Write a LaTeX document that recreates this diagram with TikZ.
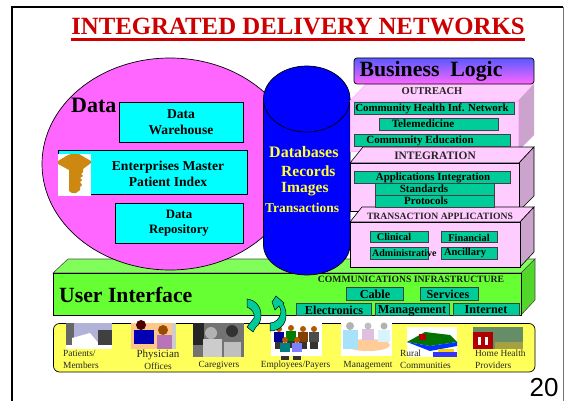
\documentclass[tikz,border=0pt]{standalone}
\usepackage{fontspec}
\setmainfont{Liberation Serif}
\setsansfont{Liberation Sans}
\definecolor{mag}{RGB}{255,102,255}
\definecolor{cyanb}{RGB}{0,255,255}
\definecolor{pinkb}{RGB}{255,204,255}
\definecolor{pinks}{RGB}{204,163,204}
\definecolor{tealb}{RGB}{0,204,153}
\definecolor{limeb}{RGB}{102,255,51}
\definecolor{limet}{RGB}{128,255,90}
\definecolor{limes}{RGB}{82,214,41}
\definecolor{yellowb}{RGB}{255,255,90}
\definecolor{goldk}{RGB}{204,136,17}
\definecolor{bluecyl}{RGB}{0,0,255}
\definecolor{ylab}{RGB}{255,255,51}
\definecolor{titler}{RGB}{204,0,0}
\tikzset{
 x=1pt,y=-1pt,
 lab/.style={font=\bfseries\fontsize{#1}{#1}\selectfont,inner sep=0pt,align=center},
 ylabel/.style={font=\bfseries\fontsize{#1}{#1}\selectfont,inner sep=0pt,text=ylab,anchor=west},
 cbox/.style={draw=black,fill=cyanb,line width=.8pt,inner sep=0pt},
 ctext/.style={font=\bfseries\fontsize{13.6}{16}\selectfont,inner sep=0pt,align=center},
 tbox/.style={draw=black!75,fill=tealb,line width=.8pt},
 small/.style={font=\fontsize{9.4}{12}\selectfont,inner sep=0pt,align=left,text=black!85},
 sideface/.style={fill=pinks,draw=black,line width=.6pt},
 topface/.style={fill=pinkb,draw=black,line width=.6pt},
 arrowshape/.style={fill=tealb,draw=black,line width=.5pt},
}
\begin{document}
\begin{tikzpicture}
\useasboundingbox (0,0) rectangle (564,401);
\fill[white] (0,0) rectangle (564,401);
\draw[line width=2pt] (12,401) -- (12,7) -- (563,7);
\draw[black!55,line width=1pt] (563,7) -- (563,401);
\node[lab=24.8,text=titler,anchor=center] (title) at (298,26.5) {INTEGRATED DELIVERY NETWORKS};
\draw[titler,line width=2.4pt] (71,39.5) -- (525,39.5);
% green bar
\draw[fill=limet,line width=.6pt,draw=black!70] (53,273) -- (68,259) -- (535,259) -- (521,273) -- cycle;
\draw[fill=limes,line width=.6pt,draw=black!70] (521,273) -- (535,259) -- (535,300) -- (521,315) -- cycle;
\draw[fill=limeb,line width=.8pt] (53,273) rectangle (521,315);
\node[lab=21.7,anchor=west] (ui) at (59,295) {User Interface};
% ellipse
\draw[fill=mag,line width=.7pt] (170,164) ellipse (128 and 106);
% cyan boxes
\draw[cbox] (119,102) rectangle (243,142);
\draw[cbox] (58,150) rectangle (247,194);
\draw[cbox] (115,203) rectangle (243,243);
\node[ctext] (wh) at (181,122) {Data\\Warehouse};
\node[ctext] (ei) at (168,173.5) {Enterprises Master\\Patient Index};
\node[ctext,font=\bfseries\fontsize{12.8}{15.5}\selectfont] (re) at (179,223) {Data\\Repository};
\node[lab=22,anchor=west] (data) at (71,105.5) {Data};
% key
\fill[white] (58,154) rectangle (91,196);
\fill[goldk] (58,161) -- (68,155) -- (71,154) -- (79,154) -- (84,157) -- (91,161) -- (91,163) -- (83,169) -- (83,172) -- (81,174) -- (83,176) -- (80,178) -- (82,180) -- (80,182) -- (82,185) -- (80,187) -- (80,190) -- (76,193) -- (72,193) -- (69,191) -- (69,170) -- (58,164) -- cycle;
% cylinder
\draw[fill=bluecyl,line width=.7pt] (263.5,99) -- (263.5,245) arc[start angle=180,end angle=360,x radius=43.25,y radius=-30] -- (350,99) arc[start angle=0,end angle=180,x radius=43.25,y radius=-33] -- cycle;
\draw[line width=.7pt] (263.5,99) arc[start angle=180,end angle=360,x radius=43.25,y radius=-33];
\node[ylabel=16] (db) at (269,152) {Databases};
\node[ylabel=15.5] (rc) at (281,171.5) {Records};
\node[ylabel=15.5] (im) at (281,189.5) {Images};
\node[ylabel=13.5] (tr) at (265,207.5) {Transactions};
% pink stack
\path[fill=pinkb,draw=mag!50,line width=.6pt] (350,101) -- (366,84) -- (534,84) -- (518,101) -- cycle;
\path[fill=pinks] (518,101) -- (534,84) -- (534,135) -- (518,151) -- cycle;
\path[fill=pinkb,draw=mag!50,line width=.6pt] (350,101) rectangle (518,151);
\draw[topface] (350,163) -- (363,147) -- (534,147) -- (519,163) -- cycle;
\draw[sideface] (519,163) -- (534,147) -- (534,196) -- (519,211) -- cycle;
\draw[topface] (350,163) rectangle (519,211);
\draw[topface] (350,222) -- (362,207) -- (534,207) -- (520,222) -- cycle;
\draw[sideface] (520,222) -- (534,207) -- (534,252) -- (520,267) -- cycle;
\draw[topface] (350,222) rectangle (520,267);
% business logic
\shade[top color=blue!65!white,bottom color=mag,rounded corners=3pt,draw=black,line width=.7pt] (354,58) rectangle (534,84);
\node[lab=21.8] (bl) at (431,71) {Business\ \ Logic};
\node[lab=10.5,text=black!85] (ot) at (432,91.5) {OUTREACH};
% outreach boxes
\draw[tbox] (354,102) rectangle (514,114);
\draw[tbox] (379,118) rectangle (498,130);
\draw[tbox] (354,134) rectangle (510,146);
\node[lab=10.9] (c1) at (432,108.5) {Community Health Inf. Network};
\node[lab=11.2] (c2) at (423,124) {Telemedicine};
\node[lab=11] (c3) at (420,140.5) {Community Education};
\node[lab=11.4,text=black!85] (ig) at (435,155.5) {INTEGRATION};
% integration boxes
\draw[tbox] (354,171) rectangle (510,183);
\draw[tbox] (375,183) rectangle (494,195);
\draw[tbox] (375,195) rectangle (494,207);
\node[lab=10.9] (a1) at (433,177.5) {Applications Integration};
\node[lab=11] (a2) at (424,189) {Standards};
\node[lab=11] (a3) at (426,201) {Protocols};
\node[lab=9.65,text=black!85] (ta) at (440,216) {TRANSACTION APPLICATIONS};
% transaction boxes
\draw[tbox] (370,231) rectangle (428,242);
\draw[tbox] (441,231) rectangle (497,242);
\draw[tbox] (370,247) rectangle (428,259);
\draw[tbox] (441,247) rectangle (497,259);
\node[lab=10.3] (t1) at (394,237) {Clinical};
\node[lab=10.3] (t2) at (469,237.5) {Financial};
\node[lab=10,anchor=west] (t3) at (372,253.5) {Administrative};
\node[lab=10.5] (t4) at (465,253) {Ancillary};
% comm infra
\node[lab=9.65,text=black!90] (ci) at (411,279) {COMMUNICATIONS INFRASTRUCTURE};
\draw[tbox] (346,287) rectangle (403,300);
\draw[tbox] (420,287) rectangle (478,300);
\draw[tbox] (296,303) rectangle (371,315);
\draw[tbox] (375,303) rectangle (449,315);
\draw[tbox] (453,303) rectangle (519,315);
\node[lab=12.2] (k1) at (375,294) {Cable};
\node[lab=12.2] (k2) at (448,294) {Services};
\node[lab=12.2] (k3) at (334,310) {Electronics};
\node[lab=12.2] (k4) at (412,311) {Management};
\node[lab=12.2] (k5) at (486,310) {Internet};
% yellow band
\draw[fill=yellowb,line width=.7pt,rounded corners=6pt] (53.5,323.5) rectangle (535,372);
% photo 1
\fill[black!50!blue!30!white] (66,323) rectangle (112,349);
\fill[black!60] (66,323) rectangle (74,345);
\fill[white] (72,338) -- (90,333) -- (100,345) -- (72,345) -- cycle;
\fill[black!75] (98,330) rectangle (112,345);
\fill[white] (66,345) rectangle (112,349);
% photo 2
\fill[orange!45!white] (131,323) rectangle (176,349);
\fill[blue!70!black] (134,330) rectangle (154,344);
\fill[black!70!red] (141,325) circle (5);
\fill[violet!55!white] (157,335) rectangle (172,349);
\fill[orange!60!black] (163,330) circle (5);
\fill[white!80!black] (172,323) rectangle (176,349);
% photo 3
\fill[black!55] (193,323) rectangle (244,357);
\fill[black!85] (193,323) rectangle (204,345);
\fill[black!20] (203,339) rectangle (222,357);
\fill[black!30] (211,333) circle (6);
\fill[black!25] (224,342) rectangle (241,357);
\fill[black!80] (232,331) circle (6);
% photo 4
\fill[white] (271,323) rectangle (322,356);
\foreach \px/\py/\pc in {279/329/blue!60!black,291/328/green!50!black,303/329/orange!50!black,314/329/black!70,285/340/teal,297/340/blue!50}{
  \fill[\pc] (\px-5,\py+3) rectangle (\px+5,\py+13);
  \fill[black!30!orange] (\px,\py) circle (3);
  \fill[black!80] (\px-4,\py+13) rectangle (\px+4,\py+20);
}
\fill[white] (271,352) rectangle (322,356);
% photo 5
\fill[white] (341,323) rectangle (392,356);
\fill[orange!40!white] (368,345) ellipse (22 and 6);
\fill[cyan!35!white] (343,330) rectangle (358,349);
\fill[black!30] (350,326) circle (4);
\fill[violet!25!white] (362,329) rectangle (374,340);
\fill[black!25] (368,326) circle (3.5);
\fill[cyan!15!white] (378,330) rectangle (390,342);
\fill[black!30] (384,326) circle (3.5);
% photo 6
\fill[white] (407,327) rectangle (457,357);
\fill[green!45!black] (407,342) -- (425,332) -- (450,335) -- (457,342) -- (430,346) -- cycle;
\fill[blue!80!cyan] (407,342) -- (430,346) -- (457,342) -- (457,346) -- (430,351) -- cycle;
\fill[red!70!black] (419,334) rectangle (426,340);
\fill[blue!80] (433,352) rectangle (457,357);
\fill[yellow!70!orange] (438,349) rectangle (454,352);
% photo 7
\fill[black!30!olive!60!cyan] (473,327) rectangle (523,349);
\fill[yellow!60!black] (495,342) rectangle (523,349);
\fill[red!70!black] (473,332) rectangle (493,349);
\fill[white] (478,337) rectangle (481,345);
\fill[white] (485,337) rectangle (488,345);
% arrows
\draw[arrowshape] (247,299) .. controls (256,300) and (261,307) .. (261,315) .. controls (261,321) and (259,325) .. (256,327) -- (253,332) -- (247,327) -- (254,318) .. controls (255,313) and (252,309) .. (247,307) -- cycle;
\draw[arrowshape] (276,296) -- (284,303) -- (283,304) .. controls (287,310) and (287,320) .. (283,325) .. controls (280,329) and (275,331) .. (270,331) -- (270,323) .. controls (275,323) and (280,319) .. (281,312) .. controls (281,310) and (280,307) .. (279,306) -- (275,310) -- (272,302) -- cycle;
% captions
\node[small,anchor=west] (q1) at (63,359) {Patients/\\Members};
\node[small,align=center] (q2) at (158,359.5) {{\fontsize{11}{12}\selectfont Physician}\\Offices};
\node[small] (q3) at (219,365) {Caregivers};
\node[small] (q4) at (295.5,365) {Employees/Payers};
\node[small] (q5) at (368,365) {Management};
\node[small,anchor=west] (q6) at (400,359) {Rural\\Communities};
\node[small,anchor=west] (q7) at (475,359) {Home Health\\Providers};
\node[font=\sffamily\fontsize{26}{26}\selectfont,inner sep=0pt,anchor=center] (num) at (544,388) {20};
\end{tikzpicture}
\end{document}
